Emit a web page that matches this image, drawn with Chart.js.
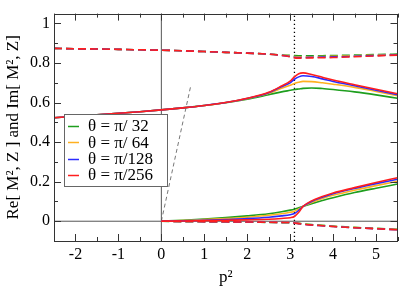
<!DOCTYPE html>
<html>
<head>
<meta charset="utf-8">
<script src="https://cdn.jsdelivr.net/npm/chart.js@4.4.1/dist/chart.umd.min.js"></script>
<style>
  html, body { margin: 0; padding: 0; background: #fff; }
  #wrap { width: 399px; height: 288px; }
</style>
</head>
<body>
<div id="wrap"><canvas id="c" width="399" height="288"></canvas></div>
<script>
// --- data ---
const thetaLabels = ['θ = π/ 32', 'θ = π/ 64', 'θ = π/128', 'θ = π/256'];
const xTicks = [-2, -1, 0, 1, 2, 3, 4, 5];
const yTicks = [0, 0.2, 0.4, 0.6, 0.8, 1];
const thresholdP2 = 3.1;

// p^2 grid for the curves defined over the whole range
const p2Full = [-2.5, -2, -1.5, -1, -0.5, 0, 0.5, 1, 1.5, 2, 2.5, 2.8, 3.0, 3.1, 3.2, 3.3, 3.5, 3.75, 4, 4.5, 5, 5.5];
// p^2 grid for the curves starting at the origin
const p2Pos = [0, 0.5, 1, 1.5, 2, 2.5, 2.8, 3.0, 3.1, 3.2, 3.3, 3.5, 3.75, 4, 4.5, 5, 5.5];

// solid, upper (Re)
const reSolid32  = [0.523, 0.531, 0.538, 0.546, 0.554, 0.563, 0.573, 0.585, 0.599, 0.617, 0.640, 0.654, 0.662, 0.666, 0.669, 0.672, 0.674, 0.671, 0.666, 0.654, 0.639, 0.622];
const reSolid64  = [0.523, 0.531, 0.538, 0.546, 0.554, 0.563, 0.573, 0.585, 0.600, 0.620, 0.647, 0.672, 0.688, 0.697, 0.703, 0.707, 0.706, 0.700, 0.693, 0.677, 0.656, 0.635];
const reSolid128 = [0.523, 0.531, 0.538, 0.546, 0.554, 0.563, 0.573, 0.585, 0.600, 0.621, 0.650, 0.680, 0.700, 0.718, 0.730, 0.736, 0.732, 0.720, 0.707, 0.685, 0.662, 0.640];
const reSolid256 = [0.523, 0.531, 0.538, 0.546, 0.554, 0.563, 0.573, 0.585, 0.600, 0.622, 0.652, 0.684, 0.708, 0.730, 0.746, 0.750, 0.742, 0.728, 0.714, 0.690, 0.667, 0.645];

// dashed, upper
const reDash32  = [0.874, 0.872, 0.871, 0.869, 0.867, 0.865, 0.862, 0.858, 0.854, 0.850, 0.845, 0.841, 0.839, 0.838, 0.837, 0.836, 0.836, 0.837, 0.838, 0.840, 0.843, 0.845];
const reDash64  = [0.874, 0.872, 0.871, 0.869, 0.867, 0.865, 0.862, 0.858, 0.854, 0.850, 0.845, 0.840, 0.836, 0.833, 0.832, 0.832, 0.832, 0.833, 0.834, 0.837, 0.840, 0.843];
const reDash128 = [0.874, 0.872, 0.871, 0.869, 0.867, 0.865, 0.862, 0.858, 0.854, 0.850, 0.845, 0.839, 0.833, 0.829, 0.828, 0.828, 0.829, 0.830, 0.831, 0.834, 0.838, 0.841];
const reDash256 = [0.874, 0.872, 0.871, 0.869, 0.867, 0.865, 0.862, 0.858, 0.854, 0.850, 0.845, 0.838, 0.831, 0.826, 0.825, 0.825, 0.826, 0.827, 0.828, 0.832, 0.836, 0.840];

// solid, lower (Im)
const imSolid32  = [0, 0.005, 0.011, 0.018, 0.027, 0.038, 0.048, 0.056, 0.061, 0.068, 0.075, 0.089, 0.105, 0.119, 0.145, 0.167, 0.188];
const imSolid64  = [0, 0.004, 0.008, 0.013, 0.020, 0.030, 0.038, 0.045, 0.050, 0.062, 0.075, 0.095, 0.115, 0.131, 0.157, 0.180, 0.202];
const imSolid128 = [0, 0.002, 0.005, 0.009, 0.013, 0.020, 0.027, 0.033, 0.039, 0.055, 0.075, 0.100, 0.121, 0.139, 0.166, 0.190, 0.212];
const imSolid256 = [0, 0.001, 0.003, 0.005, 0.007, 0.010, 0.014, 0.018, 0.024, 0.045, 0.075, 0.103, 0.125, 0.143, 0.170, 0.196, 0.220];

// dashed, lower
const imDash32  = [0, -0.002, -0.003, -0.004, -0.005, -0.006, -0.007, -0.008, -0.009, -0.011, -0.013, -0.017, -0.021, -0.025, -0.031, -0.036, -0.041];
const imDash64  = [0, -0.001, -0.002, -0.003, -0.004, -0.005, -0.006, -0.007, -0.009, -0.011, -0.014, -0.018, -0.022, -0.026, -0.032, -0.037, -0.042];
const imDash128 = [0, -0.001, -0.002, -0.003, -0.004, -0.005, -0.006, -0.007, -0.009, -0.012, -0.015, -0.019, -0.023, -0.027, -0.033, -0.038, -0.043];
const imDash256 = [0, -0.001, -0.002, -0.003, -0.004, -0.005, -0.006, -0.007, -0.009, -0.012, -0.015, -0.019, -0.023, -0.027, -0.033, -0.038, -0.043];

// light-cone guide p^2 = M^2
const guideX = [0, 0.69];
const guideY = [0, 0.69];

// --- styling ---
const colors = ['#1e9e1e', '#ffb020', '#2b2bff', '#ff1e1e'];
const FONT = '"Liberation Serif", "Times New Roman", "DejaVu Serif", serif';

const pts = (xs, ys) => xs.map((x, i) => ({ x: x, y: ys[i] }));

const groups = [
  { xs: p2Full, sets: [reSolid32, reSolid64, reSolid128, reSolid256], dash: [] },
  { xs: p2Full, sets: [reDash32, reDash64, reDash128, reDash256], dash: [8, 4] },
  { xs: p2Pos, sets: [imSolid32, imSolid64, imSolid128, imSolid256], dash: [] },
  { xs: p2Pos, sets: [imDash32, imDash64, imDash128, imDash256], dash: [8, 4] }
];

const datasets = [];
groups.forEach(g => {
  g.sets.forEach((ys, k) => {
    datasets.push({
      label: thetaLabels[k],
      data: pts(g.xs, ys),
      borderColor: colors[k],
      borderWidth: 1.6,
      borderDash: g.dash,
      pointRadius: 0,
      cubicInterpolationMode: 'monotone',
      order: 4 - k
    });
  });
});

// reference lines
const refLine = (data, color, dash, width) => ({
  label: '', data: data, borderColor: color, borderWidth: width, borderDash: dash,
  pointRadius: 0, tension: 0, order: 10
});
datasets.push(refLine([{ x: -2.5, y: 0 }, { x: 5.5, y: 0 }], '#555', [], 1));
datasets.push(refLine([{ x: 0, y: -0.1 }, { x: 0, y: 1.05 }], '#555', [], 1));
datasets.push(refLine([{ x: thresholdP2, y: -0.1 }, { x: thresholdP2, y: 1.05 }], '#000', [1.2, 2.8], 1.3));
datasets.push(refLine(pts(guideX, guideY), '#777', [4, 3], 1));

// frame + inward ticks (xmgrace style) and the boxed legend
const framePlugin = {
  id: 'frame',
  afterDraw(chart) {
    const ctx = chart.ctx, a = chart.chartArea;
    const xs = chart.scales.x, ys = chart.scales.y;
    ctx.save();
    ctx.strokeStyle = '#333';
    ctx.lineWidth = 1;
    ctx.strokeRect(Math.round(a.left) + 0.5, Math.round(a.top) + 0.5, Math.round(a.right - a.left) - 1, Math.round(a.bottom - a.top));
    ctx.beginPath();
    for (let v = -2.5; v <= 5.5 + 1e-9; v += 0.5) {
      const px = Math.round(xs.getPixelForValue(v)) + 0.5;
      const len = Math.abs(v - Math.round(v)) < 1e-6 ? 7 : 4;
      ctx.moveTo(px, a.bottom); ctx.lineTo(px, a.bottom - len);
      ctx.moveTo(px, a.top); ctx.lineTo(px, a.top + len);
    }
    for (let v = -0.1; v <= 1.0 + 1e-9; v += 0.1) {
      const py = Math.round(ys.getPixelForValue(v)) + 0.5;
      const major = Math.abs(v * 5 - Math.round(v * 5)) < 1e-6;
      const len = major ? 7 : 4;
      ctx.moveTo(a.left, py); ctx.lineTo(a.left + len, py);
      ctx.moveTo(a.right, py); ctx.lineTo(a.right - len, py);
    }
    ctx.stroke();

    // legend box
    const bx = 64.5, by = 114.5, bw = 103, bh = 72;
    ctx.fillStyle = '#fff';
    ctx.fillRect(bx, by, bw, bh);
    ctx.strokeStyle = '#666';
    ctx.strokeRect(bx, by, bw, bh);
    ctx.font = '17px ' + FONT;
    ctx.textBaseline = 'middle';
    ctx.textAlign = 'left';
    thetaLabels.forEach((t, k) => {
      const yy = 126 + k * 16.3;
      ctx.strokeStyle = colors[k];
      ctx.lineWidth = 1.5;
      ctx.setLineDash([]);
      ctx.beginPath();
      ctx.moveTo(68, Math.round(yy) + 0.5); ctx.lineTo(79, Math.round(yy) + 0.5);
      ctx.stroke();
      ctx.fillStyle = '#000';
      ctx.fillText(t, 88, yy + 1);
    });
    ctx.restore();
  }
};

function draw() {
  new Chart(document.getElementById('c'), {
    type: 'line',
    data: { datasets: datasets },
    plugins: [framePlugin],
    options: {
      responsive: false,
      animation: false,
      events: [],
      layout: { padding: { top: 1, right: 1.5, left: 0, bottom: 0 } },
      plugins: { legend: { display: false }, tooltip: { enabled: false } },
      scales: {
        x: {
          type: 'linear', min: -2.5, max: 5.5,
          afterBuildTicks: s => { s.ticks = xTicks.map(v => ({ value: v })); },
          afterFit: s => { s.height = 47; },
          grid: { display: false, drawTicks: false },
          border: { display: false },
          ticks: { color: '#000', padding: 4, font: { family: FONT, size: 16 }, maxRotation: 0 },
          title: { display: true, text: 'p²', color: '#000', font: { family: FONT, size: 17 }, padding: { top: 0, bottom: 0 } }
        },
        y: {
          type: 'linear', min: -0.1, max: 1.05,
          afterBuildTicks: s => { s.ticks = yTicks.map(v => ({ value: v })); },
          afterFit: s => { s.width = 54; },
          grid: { display: false, drawTicks: false },
          border: { display: false },
          ticks: { color: '#000', padding: 4, font: { family: FONT, size: 16 },
            callback: v => (v === 0 || v === 1) ? String(v) : v.toFixed(1) },
          title: { display: true, text: 'Re[ M², Z ] and Im[ M², Z]', color: '#000', font: { family: FONT, size: 17 }, padding: { top: 3, bottom: 0 } }
        }
      }
    }
  });
}

if (document.fonts && document.fonts.load) {
  Promise.all([
    document.fonts.load('16px "Liberation Serif"'),
    document.fonts.load('16px "Times New Roman"')
  ]).then(draw, draw);
} else {
  draw();
}
</script>
</body>
</html>
